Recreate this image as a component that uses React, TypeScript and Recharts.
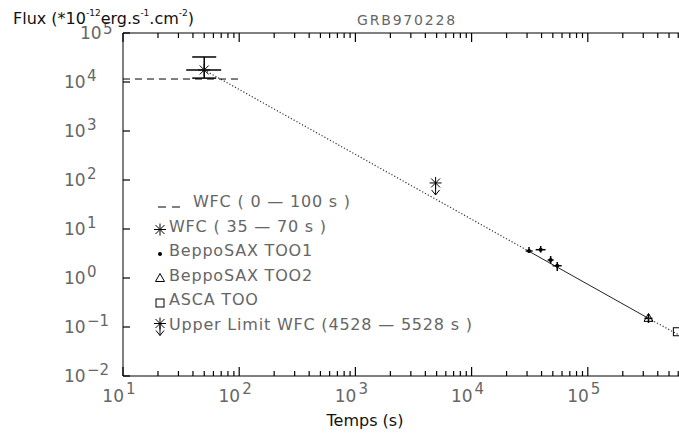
import React from 'react'
import {ScatterChart, Scatter, XAxis, YAxis, ErrorBar} from 'recharts'

// axes (log-log)
const X_DOMAIN = [10, 1e6]
const Y_DOMAIN = [0.01, 1e5]
const X_DECADES = [10, 100, 1000, 10000, 100000]
const MINOR_STEPS = [2, 3, 4, 5, 6, 7, 8, 9]
const Y_DECADES = [0.01, 0.1, 1, 10, 100, 1000, 10000, 100000]

// WFC 0-100 s mean flux (dashed)
const wfcPlateau = [{t: 10, f: 11500}, {t: 100, f: 11500}]
// WFC 35-70 s
const wfcPeak = [{t: 50, f: 17600, et: [15, 20], ef: [5600, 14800]}]
// upper limit WFC 4528-5528 s
const wfcUpper = [{t: 4900, f: 87}]
// BeppoSAX TOO1
const too1 = [
    {t: 31200, f: 3.56, et: [2000, 2300], ef: [0.32, 0.74]},
    {t: 39300, f: 3.78, et: [3700, 4000], ef: [0.48, 0.72]},
    {t: 47900, f: 2.33, et: [2800, 2900], ef: [0.4, 0.48]},
    {t: 54600, f: 1.78, et: [4800, 5000], ef: [0.39, 0.34]},
]
// BeppoSAX TOO2
const too2 = [{t: 333000, f: 0.15, et: [26000, 27000], ef: [0.029, 0.034]}]
// ASCA TOO
const asca = [{t: 590000, f: 0.08}]
// power-law decay fit
const fitEarly = [{t: 50, f: 17600}, {t: 31200, f: 3.5}]
const fitMid = [{t: 31200, f: 3.5}, {t: 333000, f: 0.15}]
const fitLate = [{t: 333000, f: 0.15}, {t: 1000000, f: 0.036}]

const LEGEND_LABELS = [
    'WFC ( 0 — 100 s )',
    'WFC ( 35 — 70 s )',
    'BeppoSAX TOO1',
    'BeppoSAX TOO2',
    'ASCA TOO',
    'Upper Limit WFC (4528 — 5528 s )',
]

const X_TICKS = X_DECADES.flatMap(d => [d, ...MINOR_STEPS.map(m => d * m)])

const FONT = '"DejaVu Sans", sans-serif'
const LABEL_GREY = '#666'

const isMajor = (v: number) => Math.abs(Math.log10(v) - Math.round(Math.log10(v))) < 1e-6
const expText = (v: number) => {
    const e = Math.round(Math.log10(v))
    return e < 0 ? `\u2212${-e}` : `${e}`
}

// ticks point into the plot, like the original
const BottomTick = ({x, y, payload}: any) => {
    const major = isMajor(payload.value)
    return (
        <g>
            <path d={`M${x},${y}V${y - (major ? 9 : 5)}`} stroke="#000" strokeWidth={1.2} fill="none"/>
            {major && (
                <g fill={LABEL_GREY} fontFamily={FONT}>
                    <text x={x + 1} y={y + 26} textAnchor="end" fontSize={17}>10</text>
                    <text x={x + 3} y={y + 18} fontSize={15}>{expText(payload.value)}</text>
                </g>
            )}
        </g>
    )
}

const TopTick = ({x, y, payload}: any) => {
    const major = isMajor(payload.value)
    return <path d={`M${x},${y}V${y + (major ? 9 : 5)}`} stroke="#000" strokeWidth={1.2} fill="none"/>
}

const LeftTick = ({x, y, payload}: any) => {
    const top = payload.value === Y_DOMAIN[1]
    const lx = top ? x - 43 : x - 59
    return (
        <g>
            <path d={`M${x},${y}H${x + 7}`} stroke="#000" strokeWidth={1.2} fill="none"/>
            <g fill={LABEL_GREY} fontFamily={FONT}>
                <text x={lx} y={y + 6} fontSize={17}>10</text>
                <text x={lx + 23} y={top ? y + 1 : y - 1} fontSize={15}>{expText(payload.value)}</text>
            </g>
        </g>
    )
}

// marker shapes
const Asterisk = ({cx, cy}: any) => (
    <g stroke="#000" strokeWidth={1}>
        <line x1={cx} x2={cx} y1={cy - 6} y2={cy + 6}/>
        <line x1={cx - 6} x2={cx + 6} y1={cy} y2={cy}/>
        <line x1={cx - 4.5} x2={cx + 4.5} y1={cy - 4.5} y2={cy + 4.5}/>
        <line x1={cx - 4.5} x2={cx + 4.5} y1={cy + 4.5} y2={cy - 4.5}/>
    </g>
)

const UpperLimit = ({cx, cy}: any) => (
    <g stroke="#000" strokeWidth={1} fill="none">
        <Asterisk cx={cx} cy={cy}/>
        <line x1={cx} x2={cx} y1={cy} y2={cy + 12}/>
        <polyline points={`${cx - 4},${cy + 7} ${cx},${cy + 12} ${cx + 4},${cy + 7}`}/>
    </g>
)

const Dot = ({cx, cy}: any) => <circle cx={cx} cy={cy} r={2} fill="#000"/>

const Triangle = ({cx, cy}: any) => (
    <polygon points={`${cx},${cy - 5} ${cx - 4.5},${cy + 3} ${cx + 4.5},${cy + 3}`} fill="none" stroke="#000"/>
)

const Square = ({cx, cy}: any) => (
    <rect x={cx - 4} y={cy - 4} width={8} height={8} fill="none" stroke="#000"/>
)

const NoShape = () => <g/>

const LEGEND_MARKERS = [null, Asterisk, Dot, Triangle, Square, UpperLimit]

export default function App() {
    return (
        <div style={{position: 'absolute', left: 0, top: 0, width: 679, height: 435, overflow: 'hidden', background: '#fff'}}>
            <ScatterChart width={720} height={435} margin={{top: 32, right: 16, bottom: 58, left: 122}}>
                <XAxis xAxisId="bottom" dataKey="t" type="number" scale="log" domain={X_DOMAIN} allowDataOverflow
                       ticks={X_TICKS} interval={0} height={1} tickSize={0} tickMargin={0}
                       tick={BottomTick} tickLine={false} axisLine={{stroke: '#000'}}/>
                <XAxis xAxisId="top" orientation="top" dataKey="t" type="number" scale="log" domain={X_DOMAIN}
                       allowDataOverflow ticks={X_TICKS} interval={0} height={1} tickSize={0} tickMargin={0}
                       tick={TopTick} tickLine={false} axisLine={{stroke: '#000'}}/>
                <YAxis yAxisId="left" dataKey="f" type="number" scale="log" domain={Y_DOMAIN} allowDataOverflow
                       ticks={Y_DECADES} interval={0} width={1} tickSize={0} tickMargin={0}
                       tick={LeftTick} tickLine={false} axisLine={{stroke: '#000'}}/>

                {/* fit */}
                <Scatter xAxisId="bottom" yAxisId="left" data={fitEarly} shape={NoShape} isAnimationActive={false}
                         line={{stroke: '#333', strokeWidth: 1.2, strokeDasharray: '1.2 2'}}/>
                <Scatter xAxisId="bottom" yAxisId="left" data={fitMid} shape={NoShape} isAnimationActive={false}
                         line={{stroke: '#222', strokeWidth: 1}}/>
                <Scatter xAxisId="bottom" yAxisId="left" data={fitLate} shape={NoShape} isAnimationActive={false}
                         line={{stroke: '#333', strokeWidth: 1.2, strokeDasharray: '1.2 2'}}/>
                <Scatter xAxisId="bottom" yAxisId="left" data={wfcPlateau} shape={NoShape} isAnimationActive={false}
                         line={{stroke: '#000', strokeWidth: 1, strokeDasharray: '7 5'}}/>

                {/* data */}
                <Scatter xAxisId="bottom" yAxisId="left" data={wfcPeak} shape={Asterisk} isAnimationActive={false}>
                    <ErrorBar dataKey="et" direction="x" width={0} stroke="#000" isAnimationActive={false}/>
                    <ErrorBar dataKey="ef" direction="y" width={12} stroke="#000" isAnimationActive={false}/>
                </Scatter>
                <Scatter xAxisId="bottom" yAxisId="left" data={wfcUpper} shape={UpperLimit} isAnimationActive={false}/>
                <Scatter xAxisId="bottom" yAxisId="left" data={too1} shape={Dot} isAnimationActive={false}>
                    <ErrorBar dataKey="et" direction="x" width={0} stroke="#000" isAnimationActive={false}/>
                    <ErrorBar dataKey="ef" direction="y" width={0} stroke="#000" isAnimationActive={false}/>
                </Scatter>
                <Scatter xAxisId="bottom" yAxisId="left" data={too2} shape={Triangle} isAnimationActive={false}>
                    <ErrorBar dataKey="et" direction="x" width={0} stroke="#000" isAnimationActive={false}/>
                    <ErrorBar dataKey="ef" direction="y" width={0} stroke="#000" isAnimationActive={false}/>
                </Scatter>
                <Scatter xAxisId="bottom" yAxisId="left" data={asca} shape={Square} isAnimationActive={false}/>
            </ScatterChart>

            <svg width={679} height={435} style={{position: 'absolute', left: 0, top: 0, pointerEvents: 'none'}}>
                <text x={13} y={24} fontFamily={FONT} fontSize={16} fill="#111">
                    Flux (*10<tspan dy={-8} fontSize={9}>-12</tspan>
                    <tspan dy={8}>erg.s</tspan>
                    <tspan dy={-8} fontSize={9}>-1</tspan>
                    <tspan dy={8}>.cm</tspan>
                    <tspan dy={-8} fontSize={9}>-2</tspan>
                    <tspan dy={8}>)</tspan>
                </text>
                <text x={407} y={25} textAnchor="middle" fontFamily={FONT} fontSize={14} letterSpacing={1.8}
                      fill={LABEL_GREY}>GRB970228</text>
                <text x={365} y={426} textAnchor="middle" fontFamily={FONT} fontSize={16} fill="#111">Temps (s)</text>

                {/* legend */}
                {LEGEND_LABELS.map((label, i) => {
                    const base = 207 + i * 24.5
                    const Marker = LEGEND_MARKERS[i]
                    return (
                        <g key={label}>
                            {Marker ? (
                                <Marker cx={160} cy={i === 5 ? base - 6 : base - 2}/>
                            ) : (
                                <g stroke="#000">
                                    <line x1={158} x2={166} y1={base} y2={base}/>
                                    <line x1={172} x2={180} y1={base} y2={base}/>
                                </g>
                            )}
                            <text x={i === 0 ? 193 : 169} y={base} fontFamily={FONT} fontSize={16}
                                  letterSpacing={0.8} fill={LABEL_GREY}>{label}</text>
                        </g>
                    )
                })}
            </svg>
        </div>
    )
}
